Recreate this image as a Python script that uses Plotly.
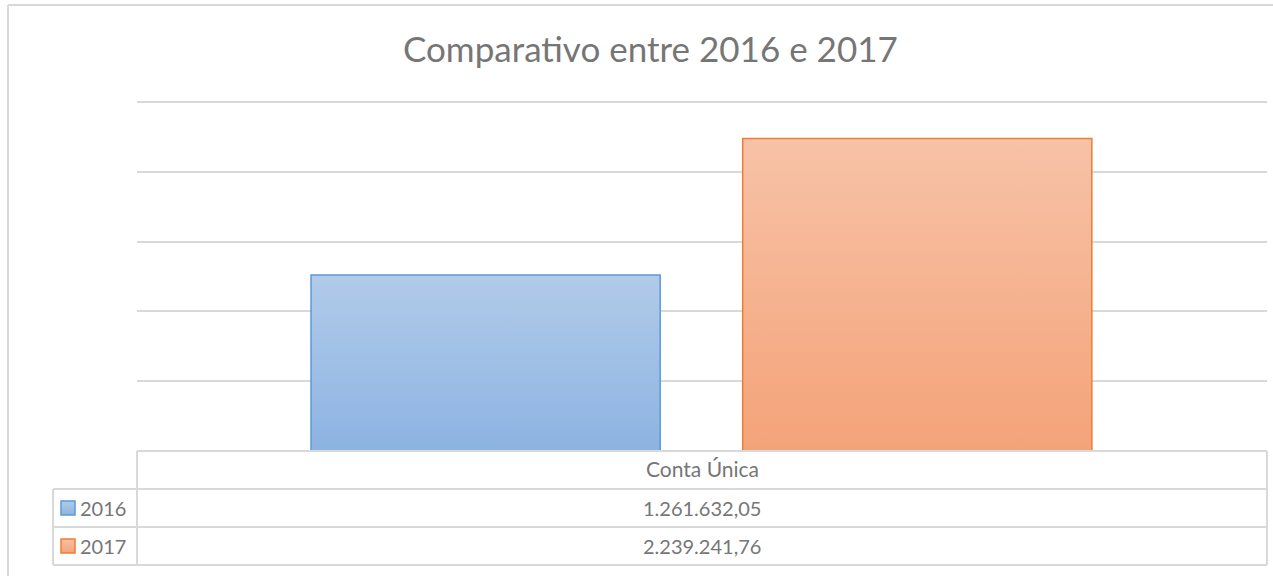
import plotly.graph_objects as go

# ---- data ----
categories = ["Conta Única"]
series_names = ["2016", "2017"]
values_2016 = [1261632.05]
values_2017 = [2239241.76]
value_labels = ["1.261.632,05", "2.239.241,76"]
title_text = "Comparativo entre 2016 e 2017"

W, H = 1273, 576
GRID = "#D9D9D9"
TXT = "#767676"
FONT = "Lato, 'Open Sans', sans-serif"


def px(x):
    return x / W


def py(y):
    return 1 - y / H


fig = go.Figure()

bar_styles = [
    dict(fill="#A0C0E6", line="#5B9BD5", offset=-0.346),
    dict(fill="#F5B28F", line="#ED7D31", offset=0.036),
]
series_values = [values_2016, values_2017]
for name, vals, st in zip(series_names, series_values, bar_styles):
    fig.add_trace(go.Bar(
        x=categories, y=vals, name=name,
        width=0.309, offset=st["offset"],
        marker=dict(color=st["fill"], line=dict(color=st["line"], width=1.5)),
        showlegend=False, hoverinfo="skip",
    ))

shapes = []


def line(x0, y0, x1, y1, color=GRID, w=2):
    shapes.append(dict(type="line", xref="paper", yref="paper",
                       x0=px(x0), y0=py(y0), x1=px(x1), y1=py(y1),
                       line=dict(color=color, width=w)))


# outer chart border
line(8, 5, 8, 576)
line(8, 5, 1273, 5)

# data table
line(137, 451, 1267, 451)
for yy in (489, 527, 565):
    line(53, yy, 1267, yy)
line(137, 451, 137, 565)
line(1267, 451, 1267, 565)
line(53, 489, 53, 565)

# legend keys
key_rows = [508, 546]
for yc, st in zip(key_rows, bar_styles):
    shapes.append(dict(type="rect", xref="paper", yref="paper",
                       x0=px(61), x1=px(75), y0=py(yc - 7), y1=py(yc + 7),
                       fillcolor=st["fill"], line=dict(color=st["line"], width=1.5)))

annotations = [
    dict(text=title_text, x=px(650), y=py(48), xref="paper", yref="paper",
         showarrow=False, xanchor="center", yanchor="middle",
         font=dict(family=FONT, size=35, color=TXT)),
    dict(text=categories[0], x=px(702), y=py(468), xref="paper", yref="paper",
         showarrow=False, xanchor="center", yanchor="middle",
         font=dict(family=FONT, size=21, color=TXT)),
]
for yc, name, lab in zip(key_rows, series_names, value_labels):
    annotations.append(dict(text=name, x=px(78), y=py(yc), xref="paper", yref="paper",
                            showarrow=False, xanchor="left", yanchor="middle",
                            font=dict(family=FONT, size=20, color=TXT)))
    annotations.append(dict(text=lab, x=px(702), y=py(yc), xref="paper", yref="paper",
                            showarrow=False, xanchor="center", yanchor="middle",
                            font=dict(family=FONT, size=20, color=TXT)))

# y scale: 0 at y=451px, 2.5M at y=102px
y_top_val = 2520000
y_top_px = 451 - (451 - 102) * y_top_val / 2500000

fig.update_layout(
    width=W, height=H,
    margin=dict(l=0, r=0, t=0, b=0),
    paper_bgcolor="white", plot_bgcolor="white",
    barmode="overlay",
    xaxis=dict(domain=[px(137), px(1267)], range=[-0.5, 0.5],
               showticklabels=False, showgrid=False, zeroline=False, showline=False),
    yaxis=dict(domain=[py(451), py(y_top_px)], range=[0, y_top_val], dtick=500000,
               tick0=0,
               showticklabels=False, showgrid=True, gridcolor=GRID, gridwidth=2,
               zeroline=False, showline=False),
    shapes=shapes,
    annotations=annotations,
)

post = """
document.body.style.margin = '0';
document.documentElement.style.margin = '0';
document.body.style.overflow = 'hidden';
var gd = document.getElementById('{plot_id}');
function applyGrad(){
  var ns = 'http://www.w3.org/2000/svg';
  var svg = gd.querySelector('svg.main-svg');
  var defs = svg.querySelector('defs');
  if (!defs) { defs = document.createElementNS(ns, 'defs'); svg.insertBefore(defs, svg.firstChild); }
  function mk(id, c1, c2){
    if (document.getElementById(id)) return;
    var g = document.createElementNS(ns, 'linearGradient');
    g.setAttribute('id', id); g.setAttribute('x1','0'); g.setAttribute('y1','0');
    g.setAttribute('x2','0'); g.setAttribute('y2','1');
    var s1 = document.createElementNS(ns, 'stop'); s1.setAttribute('offset','0'); s1.setAttribute('stop-color', c1);
    var s2 = document.createElementNS(ns, 'stop'); s2.setAttribute('offset','1'); s2.setAttribute('stop-color', c2);
    g.appendChild(s1); g.appendChild(s2); defs.appendChild(g);
  }
  mk('gradB', '#B1CBE9', '#8DB3E2');
  mk('gradO', '#F7C2A7', '#F4A378');
  var ids = ['gradB', 'gradO'];
  gd.querySelectorAll('.barlayer .trace').forEach(function(t, i){
    t.querySelectorAll('path').forEach(function(p){ p.style.fill = 'url(#' + ids[i] + ')'; });
  });
  gd.querySelectorAll('.shapelayer path').forEach(function(p){
    var f = p.style.fill;
    if (f === 'rgb(160, 192, 230)') p.style.fill = 'url(#gradB)';
    if (f === 'rgb(245, 178, 143)') p.style.fill = 'url(#gradO)';
  });
}
applyGrad();
gd.on('plotly_afterplot', applyGrad);
"""

fig.write_html("out.html", post_script=post, config={"displayModeBar": False})
